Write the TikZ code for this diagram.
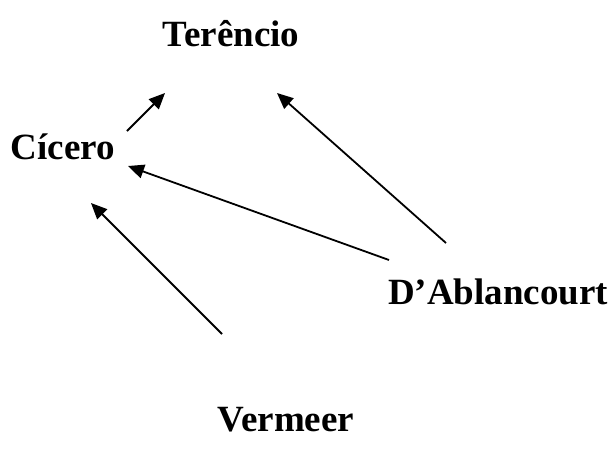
\documentclass[tikz,border=0pt]{standalone}
\usepackage{fontspec}
\setmainfont{Liberation Serif}
\usetikzlibrary{arrows.meta}
\begin{document}
\begin{tikzpicture}[x=1pt,y=-1pt,
  lbl/.style={anchor=base,inner sep=0pt,font=\fontsize{37}{42}\selectfont\bfseries},
  arr/.style={line width=1.8pt,-{Triangle[length=16pt,width=14pt]}}]
\useasboundingbox (0,0) rectangle (613,451);
\node[lbl] (ter) at (231,46) {Terêncio};
\node[lbl] (cic) at (63,159) {Cícero};
\node[lbl] (dab) at (498,304) {D’Ablancourt};
\node[lbl] (ver) at (286,431) {Vermeer};
\coordinate (a1s) at (127,131); \coordinate (a1e) at (165,93);
\coordinate (a2s) at (389,260); \coordinate (a2e) at (128,166);
\coordinate (a3s) at (446,243); \coordinate (a3e) at (277,93);
\coordinate (a4s) at (222,334); \coordinate (a4e) at (91,203);
\draw[arr] (a1s) -- (a1e);
\draw[arr] (a2s) -- (a2e);
\draw[arr] (a3s) -- (a3e);
\draw[arr] (a4s) -- (a4e);
\end{tikzpicture}
\end{document}
